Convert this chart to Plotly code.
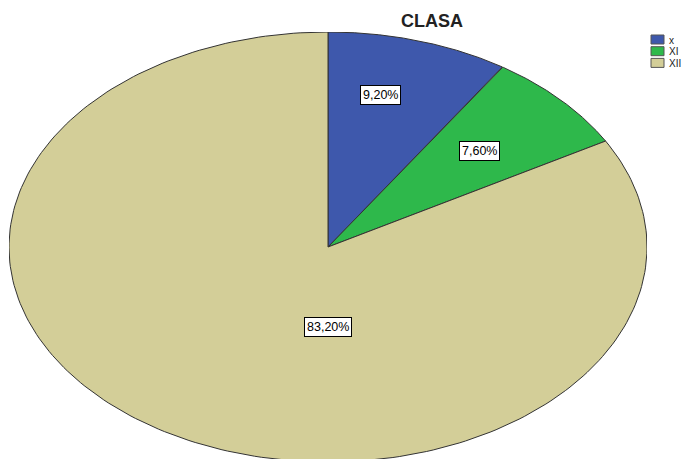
import numpy as np
import plotly.graph_objects as go

categories = ["x", "XI", "XII"]
percentages = [9.20, 7.60, 83.20]
colors = ["#3E58AC", "#2EB84B", "#D3CE98"]
title_text = "CLASA"

W, H = 684, 459
# pie ellipse box in window pixels
PL, PR, PT, PB = 9, 647, 32, 462
RX, RY = (PR - PL) / 2, (PB - PT) / 2
CY = (PT + PB) / 2
plot_bottom = min(PB, H)
ML, MR, MT, MB = PL, W - PR, PT, H - plot_bottom
y_low = -(plot_bottom - CY) / RY

# label placement (radius fraction, angle override in degrees clockwise from top or None)
label_layout = [(0.725, 13.0), (0.65, None), (0.37, 180.0)]


def px_to_paper(px, py):
    return (px - ML) / (W - ML - MR), 1 - (py - MT) / (H - MT - MB)


fig = go.Figure()
total = sum(percentages)
start = 0.0
for cat, val, col, (lr, ang) in zip(categories, percentages, colors, label_layout):
    end = start + val / total * 360.0
    th = np.radians(np.linspace(start, end, 240))
    xs = np.concatenate([[0], np.sin(th), [0]])
    ys = np.concatenate([[0], np.cos(th), [0]])
    fig.add_trace(go.Scatter(
        x=xs, y=ys, mode="lines", fill="toself", fillcolor=col,
        line=dict(color="#333333", width=1), name=cat, hoverinfo="skip",
        showlegend=False,
    ))
    mid = np.radians(ang if ang is not None else (start + end) / 2)
    fig.add_annotation(
        x=lr * np.sin(mid), y=lr * np.cos(mid), xref="x", yref="y",
        text=f"{val:.2f}%".replace(".", ","), showarrow=False,
        font=dict(family="Liberation Sans, Arial", size=12.5, color="black"),
        bgcolor="white", bordercolor="black", borderwidth=1, borderpad=2,
    )
    start = end

# manual legend
for i, (cat, col) in enumerate(zip(categories, colors)):
    top = 35 + i * 11.7
    x0, y0 = px_to_paper(651, top)
    x1, y1 = px_to_paper(664, top + 9)
    fig.add_shape(type="rect", xref="paper", yref="paper", x0=x0, y0=y1, x1=x1, y1=y0,
                  fillcolor=col, line=dict(color="#555555", width=1))
    tx, ty = px_to_paper(667, top + 5)
    fig.add_annotation(x=tx, y=ty, xref="paper", yref="paper", text=cat,
                       showarrow=False, xanchor="left", yanchor="middle",
                       font=dict(family="Liberation Sans, Arial", size=10, color="#222222"))

tx, ty = px_to_paper(432, 20.5)
fig.add_annotation(x=tx, y=ty, xref="paper", yref="paper", text=f"<b>{title_text}</b>",
                   showarrow=False, xanchor="center", yanchor="middle",
                   font=dict(family="Liberation Sans, Arial", size=18, color="#222222"))

fig.update_layout(
    width=W, height=H,
    margin=dict(l=ML, r=MR, t=MT, b=MB, autoexpand=False),
    paper_bgcolor="white", plot_bgcolor="white",
    xaxis=dict(range=[-1.0, 1.0], visible=False, fixedrange=True),
    yaxis=dict(range=[y_low, 1.0], visible=False, fixedrange=True),
    showlegend=False,
    hovermode=False,
)

fig.write_html("out.html",
               config={"displayModeBar": False, "staticPlot": True},
               post_script="document.body.style.margin='0px';document.body.style.overflow='hidden';")
